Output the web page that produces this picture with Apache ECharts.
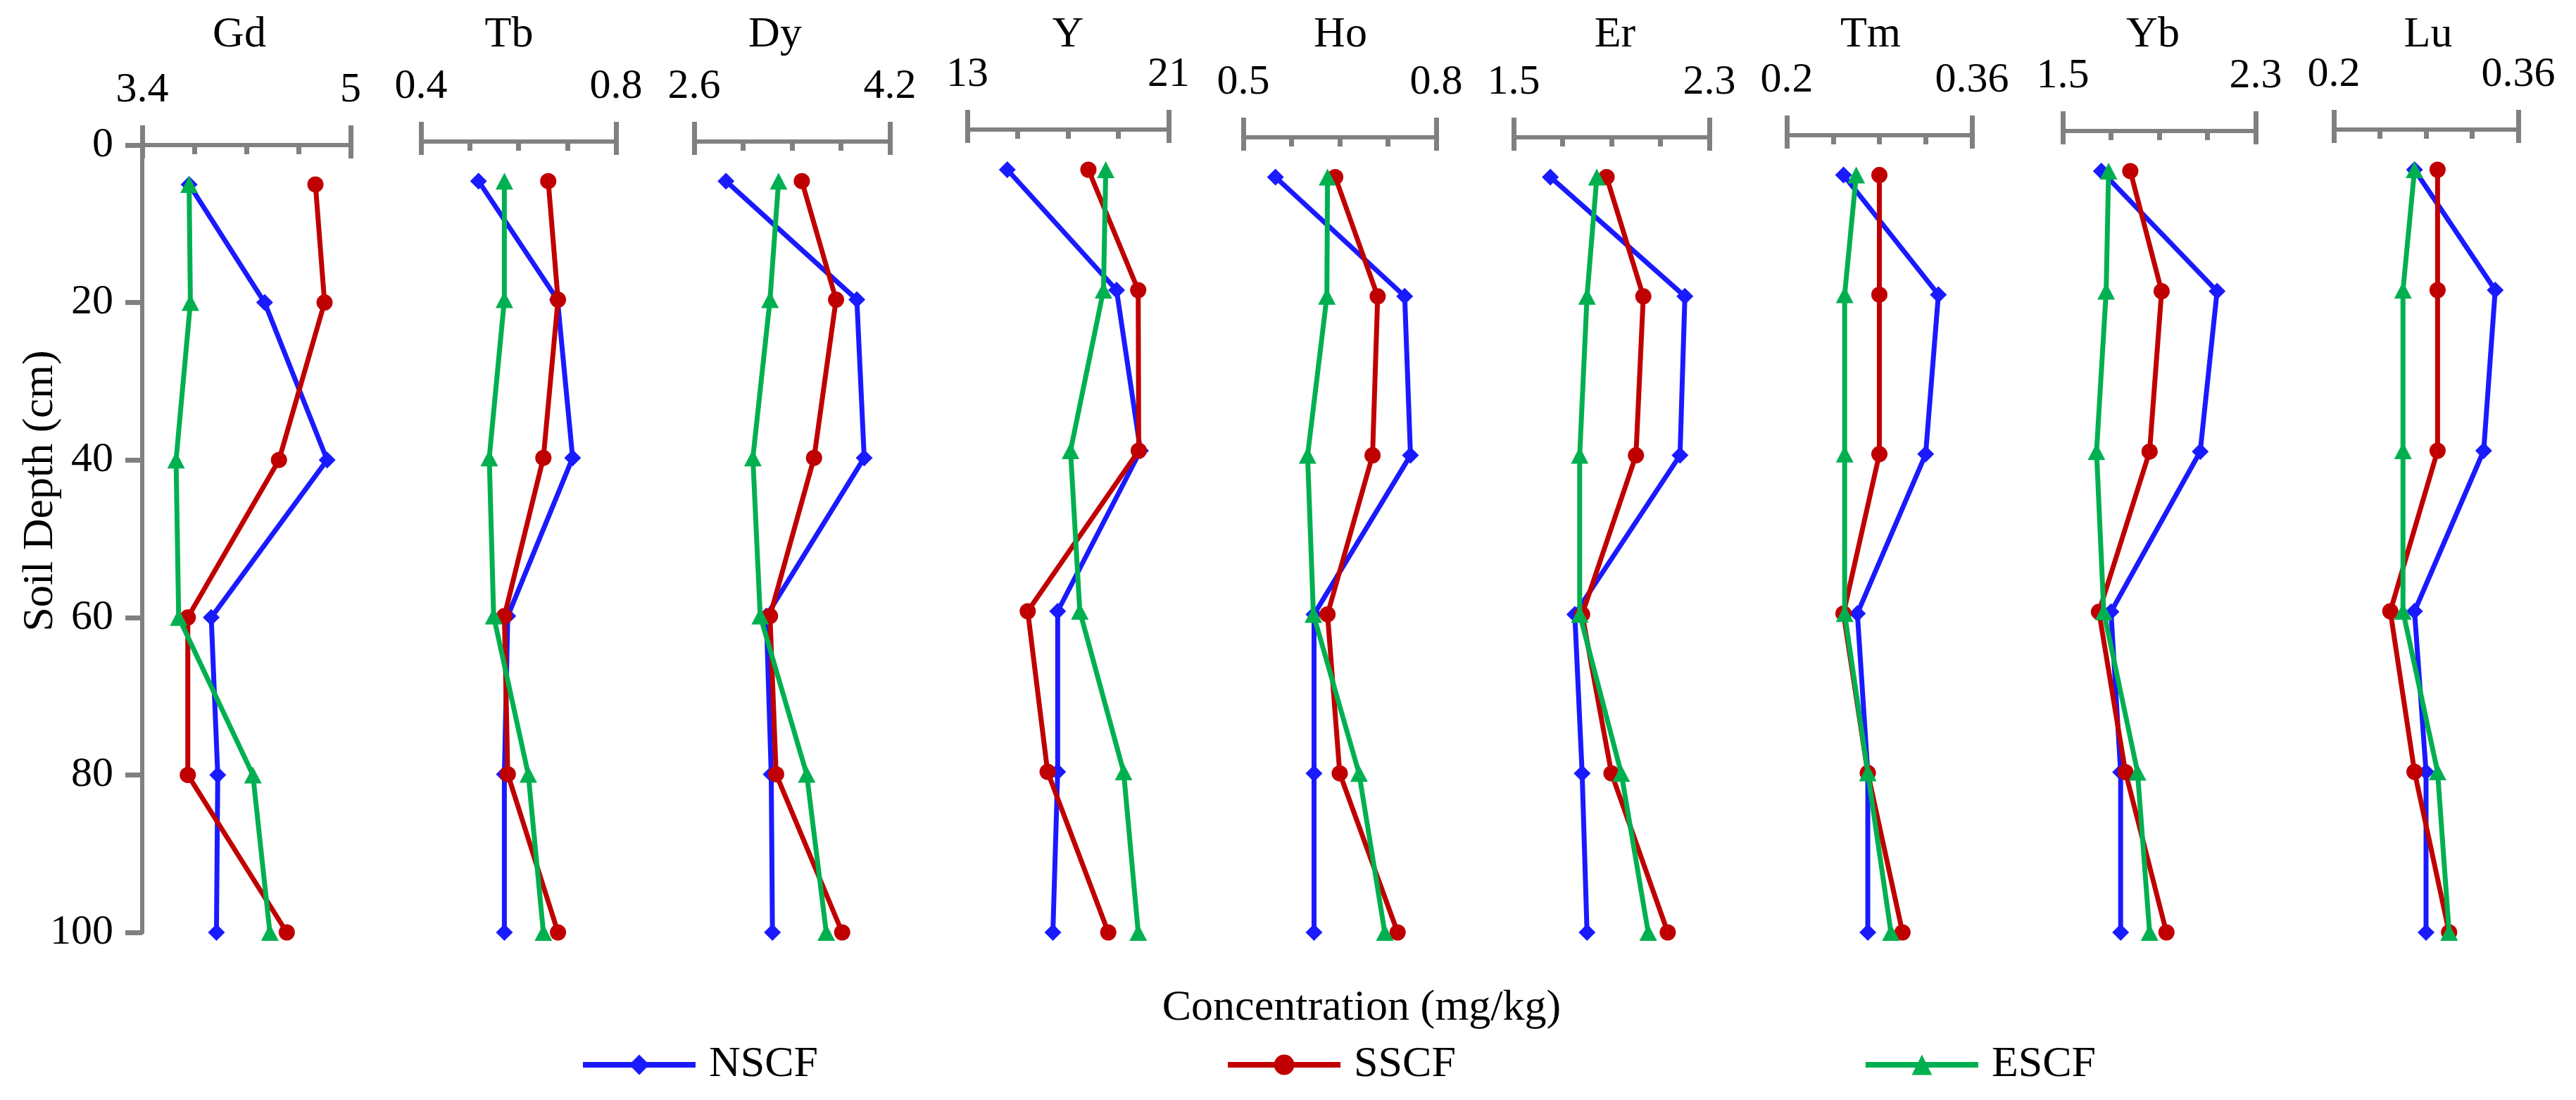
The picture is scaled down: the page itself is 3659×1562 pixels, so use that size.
<!DOCTYPE html>
<html>
<head>
<meta charset="utf-8">
<script src="https://cdn.jsdelivr.net/npm/echarts@6/dist/echarts.min.js"></script>
<style>
html,body{margin:0;padding:0;background:#fff;}
#chart{width:3659px;height:1562px;}
</style>
</head>
<body>
<div id="chart"></div>
<script>
// ---------------- DATA ----------------
const depths = [5, 20, 40, 60, 80, 100];
const elements = ['Gd', 'Tb', 'Dy', 'Y', 'Ho', 'Er', 'Tm', 'Yb', 'Lu'];
const axisMin = [3.4, 0.4, 2.6, 13, 0.5, 1.5, 0.2, 1.5, 0.2];
const axisMax = [5, 0.8, 4.2, 21, 0.8, 2.3, 0.36, 2.3, 0.36];
const depthTicks = [0, 20, 40, 60, 80, 100];
const seriesNames = ['NSCF', 'SSCF', 'ESCF'];

// rows follow `elements`, columns follow `depths`
const nscf = [
  [3.76, 4.34, 4.82, 3.93, 3.98, 3.97],
  [0.518, 0.680, 0.711, 0.578, 0.571, 0.571],
  [2.86, 3.93, 3.99, 3.19, 3.23, 3.24],
  [14.59, 18.93, 19.88, 16.59, 16.59, 16.40],
  [0.550, 0.751, 0.760, 0.610, 0.610, 0.610],
  [1.65, 2.20, 2.18, 1.75, 1.78, 1.80],
  [0.249, 0.331, 0.320, 0.261, 0.270, 0.270],
  [1.66, 2.14, 2.07, 1.70, 1.74, 1.74],
  [0.270, 0.340, 0.330, 0.270, 0.280, 0.280]
];
const sscf = [
  [4.73, 4.80, 4.45, 3.75, 3.75, 4.51],
  [0.661, 0.681, 0.651, 0.571, 0.578, 0.681],
  [3.48, 3.76, 3.58, 3.22, 3.27, 3.81],
  [17.81, 19.79, 19.81, 15.40, 16.19, 18.60],
  [0.643, 0.709, 0.701, 0.631, 0.650, 0.740],
  [1.88, 2.03, 2.00, 1.78, 1.90, 2.13],
  [0.280, 0.280, 0.280, 0.249, 0.270, 0.300],
  [1.78, 1.91, 1.86, 1.65, 1.76, 1.93],
  [0.290, 0.290, 0.290, 0.249, 0.270, 0.300]
];
const escf = [
  [3.76, 3.77, 3.66, 3.68, 4.25, 4.38],
  [0.571, 0.571, 0.540, 0.549, 0.620, 0.651],
  [3.29, 3.22, 3.08, 3.14, 3.52, 3.68],
  [18.50, 18.41, 17.10, 17.47, 19.21, 19.79],
  [0.631, 0.630, 0.600, 0.609, 0.680, 0.720],
  [1.84, 1.80, 1.77, 1.77, 1.94, 2.05],
  [0.260, 0.250, 0.250, 0.250, 0.270, 0.290],
  [1.69, 1.68, 1.64, 1.67, 1.81, 1.86],
  [0.270, 0.260, 0.260, 0.260, 0.290, 0.300]
];

// ---------------- LAYOUT / STYLE ----------------
const panelLeft  = [202, 598, 986, 1374, 1766, 2150, 2538, 2930, 3315];
const panelRight = [498, 875, 1264, 1660, 2040, 2428, 2801, 3204, 3577];
const panelTop   = [206, 201, 201, 184, 195, 195, 192, 186, 184];
const titleX     = [340, 723, 1101, 1517, 1904, 2294, 2657, 3058, 3449];
const plotBottom = 1324;
const FONT = "'Liberation Serif', 'DejaVu Serif', serif";
const GRAY = '#808080';
const colors = ['#1a1aff', '#c00000', '#00b050'];
const symbols = ['diamond', 'circle', 'triangle'];
const symbolSizes = [[24, 24], 23, [25, 24]];
const allData = [nscf, sscf, escf];

const grid = [], xAxis = [], yAxis = [], series = [], graphic = [];

const textStyleBase = { fontFamily: FONT, fontSize: 62, fill: '#000',
  align: 'center', verticalAlign: 'middle', textAlign: 'center', textVerticalAlign: 'middle' };

elements.forEach((el, i) => {
  const mn = axisMin[i], mx = axisMax[i];
  const step = (mx - mn) / 4;
  const ticks = [0, 1, 2, 3, 4].map(k => +(mn + k * step).toFixed(6));
  grid.push({
    left: panelLeft[i],
    top: panelTop[i],
    width: panelRight[i] - panelLeft[i],
    height: plotBottom - panelTop[i],
    containLabel: false
  });
  xAxis.push({
    type: 'value', gridIndex: i, position: 'top', min: mn, max: mx,
    axisLine: { show: true, lineStyle: { color: GRAY, width: 6 } },
    axisTick: { show: true, inside: true, length: 13, customValues: ticks,
      lineStyle: { color: GRAY, width: 7 } },
    axisLabel: { show: true, customValues: [mn, mx], margin: 48,
      fontFamily: FONT, fontSize: 60, color: '#000' },
    splitLine: { show: false }
  });
  xAxis.push({
    type: 'value', gridIndex: i, position: 'top', min: mn, max: mx,
    axisLine: { show: false },
    axisTick: { show: true, inside: false, length: 28, customValues: [mn, mx],
      lineStyle: { color: GRAY, width: 7 } },
    axisLabel: { show: false }, splitLine: { show: false }
  });
  xAxis.push({
    type: 'value', gridIndex: i, position: 'top', min: mn, max: mx,
    axisLine: { show: false },
    axisTick: { show: true, inside: true, length: 19, customValues: [mn, mx],
      lineStyle: { color: GRAY, width: 7 } },
    axisLabel: { show: false }, splitLine: { show: false }
  });
  yAxis.push({
    type: 'value', gridIndex: i, inverse: true, min: 0, max: 100,
    show: i === 0,
    axisLine: { show: i === 0, lineStyle: { color: GRAY, width: 6 } },
    axisTick: { show: i === 0, inside: false, length: 24, customValues: depthTicks,
      lineStyle: { color: GRAY, width: 7 } },
    axisLabel: { show: i === 0, customValues: depthTicks, margin: 41,
      fontFamily: FONT, fontSize: 60, color: '#000' },
    splitLine: { show: false }
  });
  allData.forEach((arr, s) => {
    series.push({
      name: seriesNames[s], type: 'line',
      xAxisIndex: 3 * i, yAxisIndex: i,
      data: depths.map((d, k) => [arr[i][k], d]),
      symbol: symbols[s], symbolSize: symbolSizes[s],
      showAllSymbol: true, clip: false,
      lineStyle: { color: colors[s], width: 7 },
      itemStyle: { color: colors[s] },
      z: 2 + s, animation: false
    });
  });
  graphic.push({
    type: 'text',
    x: titleX[i], y: 50,
    style: Object.assign({ text: el }, textStyleBase)
  });
});

graphic.push({
  type: 'text', x: 58, y: 697, rotation: Math.PI / 2,
  style: Object.assign({ text: 'Soil Depth (cm)' }, textStyleBase)
});
graphic.push({
  type: 'text', x: 1934, y: 1432,
  style: Object.assign({ text: 'Concentration (mg/kg)' }, textStyleBase)
});

const option = {
  animation: false,
  backgroundColor: '#fff',
  textStyle: { fontFamily: FONT },
  grid, xAxis, yAxis, series, graphic,
  legend: {
    data: seriesNames,
    left: 819, top: 1476,
    itemWidth: 160, itemHeight: 36, itemGap: 578,
    lineStyle: { width: 8 },
    textStyle: { fontFamily: FONT, fontSize: 62, color: '#000', padding: [0, 0, 0, 14] }
  }
};

const chart = echarts.init(document.getElementById('chart'));
chart.setOption(option);
</script>
</body>
</html>
